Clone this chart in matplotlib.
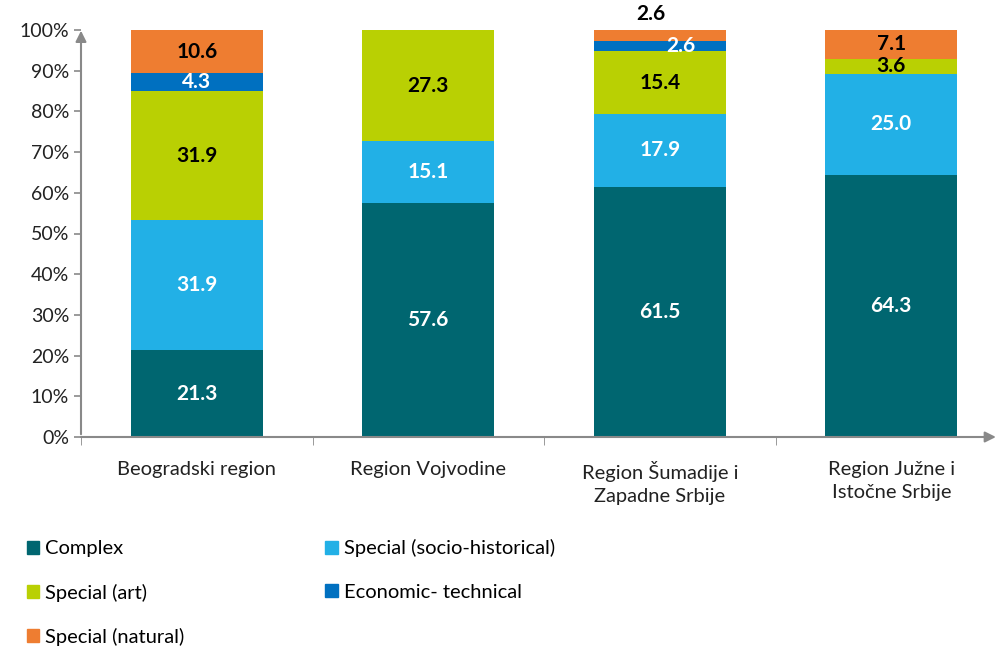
import matplotlib.pyplot as plt
from matplotlib.patches import Patch
import numpy as np

plt.rcParams['font.family'] = ['Lato', 'DejaVu Sans']

regions = ["Beogradski region", "Region Vojvodine", "Region Šumadije i\nZapadne Srbije", "Region Južne i\nIstočne Srbije"]
series = ["Complex", "Special (socio-historical)", "Special (art)", "Economic- technical", "Special (natural)"]
complex_ = [21.3, 57.6, 61.5, 64.3]
socio = [31.9, 15.1, 17.9, 25.0]
art = [31.9, 27.3, 15.4, 3.6]
econ = [4.3, 0, 2.6, 0]
natural = [10.6, 0, 2.6, 7.1]

colors = ["#006670", "#22b0e6", "#b9d003", "#0070c0", "#ee7d31"]
label_colors = ["white", "white", "black", "white", "black"]
grey = "#898989"

fig = plt.figure(figsize=(9.98, 6.49), dpi=100)
ax = fig.add_axes([81/998, 212/649, 926/998, 407/649])

x = np.arange(len(regions))
data = [complex_, socio, art, econ, natural]
bottom = np.zeros(len(regions))
for k, vals in enumerate(data):
    vals = np.array(vals)
    ax.bar(x, vals, 0.57, bottom=bottom, color=colors[k], label=series[k])
    for i, v in enumerate(vals):
        if v == 0:
            continue
        xi, yi = x[i], bottom[i] + v / 2
        # small segments of the third bar are shifted like the original
        if i == 2 and k == 3:
            xi += 0.09
        if i == 2 and k == 4:
            xi -= 0.04
            yi = 104.0
        ax.text(xi, yi, f"{v:.1f}", ha="center", va="center", fontsize=15,
                fontweight="bold", color=label_colors[k], clip_on=False)
    bottom += vals

ax.set_xlim(-0.5, 3.5)
ax.set_ylim(0, 100)
ax.set_yticks(np.arange(0, 101, 10))
ax.set_yticklabels([f"{t}%" for t in range(0, 101, 10)])
ax.set_xticks(x)
ax.set_xticklabels(regions, linespacing=1.45)
ax.set_xticks(np.arange(-0.5, 3.5, 1), minor=True)
ax.tick_params(axis="x", which="major", length=0, pad=17, labelsize=14.5, colors="#222222")
ax.tick_params(axis="x", which="minor", length=6, color=grey)
ax.tick_params(axis="y", length=5, color=grey, labelsize=14, labelcolor="#222222", width=1.2)
for s in ax.spines.values():
    s.set_visible(False)

ax.annotate("", xy=(0, 1.005), xytext=(0, 0), xycoords="axes fraction",
            arrowprops=dict(arrowstyle="-|>", color=grey, lw=1.5, mutation_scale=16))
ax.annotate("", xy=(0.991, 0), xytext=(-0.003, 0), xycoords="axes fraction",
            arrowprops=dict(arrowstyle="-|>", color=grey, lw=1.5, mutation_scale=16))

order = [0, 2, 4, 1, 3]
handles = [Patch(color=colors[k]) for k in order]
labels = [series[k] for k in order]
fig.legend(handles, labels, loc="upper left", bbox_to_anchor=(0.009, 0.197), ncol=2,
           frameon=False, fontsize=14.5, handlelength=0.6, handleheight=0.6,
           handletextpad=0.3, labelspacing=1.3, columnspacing=7.0)

fig.savefig("out.png", dpi=100)
